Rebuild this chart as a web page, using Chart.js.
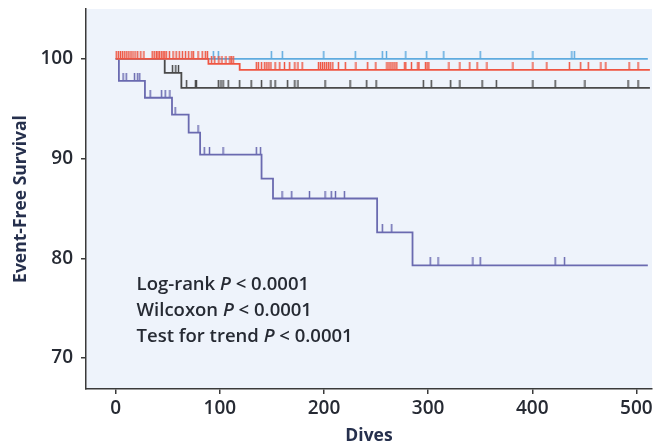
<!DOCTYPE html>
<html>
<head>
<meta charset="utf-8">
<script src="https://cdn.jsdelivr.net/npm/chart.js@4/dist/chart.umd.min.js"></script>
<style>
html,body{margin:0;padding:0;background:#fff;}
#wrap{width:661px;height:447px;position:relative;}
</style>
</head>
<body>
<div id="wrap"><canvas id="c" width="661" height="447"></canvas></div>
<script>
// ---- Data ----
const xTicks = [0, 100, 200, 300, 400, 500];
const yTicks = [70, 80, 90, 100];

// Step functions: survival value holds from x[i] until x[i+1]
const redX    = [0, 89, 119, 513];
const redY    = [100, 99.5, 98.9, 98.9];
const blueX   = [0, 511];
const blueY   = [100, 100];
const blackX  = [0, 47, 63, 513];
const blackY  = [100, 98.6, 97.1, 97.1];
const purpleX = [0, 3, 28, 54, 70, 81, 140, 151, 251, 285, 511];
const purpleY = [100, 97.8, 96.1, 94.4, 92.6, 90.4, 88.0, 86.0, 82.6, 79.3, 79.3];

// Censored observations (dives)
const redCens = [0.5, 2.5, 4.5, 6.5, 8.5, 10.5, 12.5, 14.5, 16.5, 18.5, 21, 24, 27, 35, 37, 39, 40.5, 42, 44, 45.5, 47, 48.5, 51.5, 55, 58, 61, 64, 67, 70, 73, 74.5, 79, 83, 86, 88,
  92, 95, 99, 102, 105.8, 109.6, 111, 112.8,
  135, 137, 140, 143, 145, 147, 149, 153, 157.5, 162, 167, 172, 175, 179, 194.7, 196.6, 198.5, 200.4, 202.3, 204.2, 206, 208.4, 213.8, 220.5, 230.7, 241.9, 249.8,
  260.4, 262.3, 264.2, 266.1, 268, 269.9, 277.5, 278.5, 284, 290.2, 291.2, 297.5, 299, 300.7, 320, 330.5, 340, 347, 356.5,
  381.5, 400.6, 414, 435.7, 446.5, 453.8, 465.9, 470.7, 493, 501.6];
const blueCens = [93.7, 98.5, 149.4, 160, 199.8, 230, 256, 260, 278.5, 298.6, 315, 350, 400.6, 438, 440.4];
const blackCens = [54.5, 57.6, 60.2, 68, 76.5, 77.5, 98.5, 101, 103, 108, 119, 130, 140, 149, 153, 165, 172, 175, 201, 225, 241, 250, 295.4, 303, 321.6, 330.5, 351.8, 365.5, 400.6, 422, 450.6, 492, 501.6];
const purpleCens = [7, 10, 18, 21, 23, 33, 44, 47.5, 52, 57, 79, 85, 90, 103, 135, 139, 159.7, 169, 186, 201, 207, 211, 219.6, 256, 265, 302, 309.5, 343, 350, 422, 431];

const statLines = [
  ["Log-rank ", "P", " < 0.0001"],
  ["Wilcoxon ", "P", " < 0.0001"],
  ["Test for trend ", "P", " < 0.0001"]
];

// ---- Styles ----
const C = {
  red: '#ef5542',
  blue: '#5fabdf',
  black: '#4a4a4a',
  purple: '#6a6ab0',
  bg: '#eef3fb',
  axis: '#3a3a3a',
  text: '#262a33',
  label: '#26304d'
};

function stepPts(xs, ys){ return xs.map((x,i)=>({x:x, y:ys[i]})); }
function valueAt(xs, ys, x){
  let v = ys[0];
  for (let i=0;i<xs.length;i++){ if (xs[i] <= x) v = ys[i]; }
  return v;
}
function censPts(cens, xs, ys){ return cens.map(x=>({x:x, y:valueAt(xs, ys, x)})); }
function tickImg(color){
  const cv = document.createElement('canvas');
  cv.width = 3; cv.height = 16;
  const g = cv.getContext('2d');
  g.strokeStyle = color; g.lineWidth = 1.5;
  g.beginPath(); g.moveTo(1.5, 0); g.lineTo(1.5, 8); g.stroke();
  return cv;
}
function lineDs(label, xs, ys, color){
  return {type:'line', label, data: stepPts(xs, ys), borderColor: color, borderWidth: 1.8,
    stepped: true, pointRadius: 0, fill: false, tension: 0};
}
function censDs(label, cens, xs, ys, color){
  return {type:'scatter', label, data: censPts(cens, xs, ys), pointStyle: tickImg(color),
    pointRadius: 8, borderColor: color, backgroundColor: color};
}

const bgPlugin = {
  id: 'bg',
  beforeDraw(chart){
    const {ctx, chartArea:a} = chart;
    ctx.save(); ctx.fillStyle = C.bg;
    ctx.fillRect(a.left, a.top, a.right - a.left, a.bottom - a.top);
    ctx.restore();
  }
};
const textPlugin = {
  id: 'stats',
  afterDatasetsDraw(chart){
    const {ctx, scales} = chart;
    const x0 = scales.x.getPixelForValue(20);
    const y0 = scales.y.getPixelForValue(77.33);
    ctx.save();
    ctx.fillStyle = C.text; ctx.textBaseline = 'middle';
    statLines.forEach((parts, i) => {
      let x = x0; const y = y0 + i*25.8;
      parts.forEach((p, j) => {
        ctx.font = (j===1 ? 'italic ' : '') + '600 18.5px "Open Sans"';
        ctx.fillText(p, x, y);
        x += ctx.measureText(p).width;
      });
    });
    ctx.restore();
  }
};

new Chart(document.getElementById('c'), {
  data: {
    datasets: [
      censDs('red cens', redCens, redX, redY, C.red),
      lineDs('red', redX, redY, C.red),
      censDs('blue cens', blueCens, blueX, blueY, C.blue),
      lineDs('blue', blueX, blueY, C.blue),
      censDs('black cens', blackCens, blackX, blackY, C.black),
      lineDs('black', blackX, blackY, C.black),
      censDs('purple cens', purpleCens, purpleX, purpleY, C.purple),
      lineDs('purple', purpleX, purpleY, C.purple)
    ]
  },
  options: {
    responsive: false,
    animation: false,
    layout: {padding: {top: 8, right: 6, left: 0, bottom: 0}},
    plugins: {legend: {display: false}, tooltip: {enabled: false}},
    scales: {
      x: {
        type: 'linear', min: -28.6, max: 515,
        afterBuildTicks(s){ s.ticks = xTicks.map(v=>({value:v})); },
        afterFit(s){ s.height = 58; s.paddingLeft = 0; s.paddingRight = 0; },
        grid: {drawOnChartArea: false, tickLength: 5, color: C.axis, lineWidth: 1.5},
        border: {color: C.axis, width: 1.5},
        ticks: {color: C.text, font: {family: '"Open Sans"', size: 19, weight: '600'}, padding: 3, maxRotation: 0},
        title: {display: true, text: 'Dives', color: C.label, font: {family: '"Open Sans"', size: 17.5, weight: 'bold'}, padding: {top: 0, bottom: 0}}
      },
      y: {
        type: 'linear', min: 66.9, max: 105,
        afterBuildTicks(s){ s.ticks = yTicks.map(v=>({value:v})); },
        afterFit(s){ s.width = 86; s.paddingTop = 0; s.paddingBottom = 0; },
        grid: {drawOnChartArea: false, tickLength: 5, color: C.axis, lineWidth: 1.5},
        border: {color: C.axis, width: 1.5},
        ticks: {color: C.text, font: {family: '"Open Sans"', size: 19, weight: '600'}, padding: 8},
        title: {display: true, text: 'Event-Free Survival', color: C.label, font: {family: '"Open Sans"', size: 17.5, weight: 'bold'}, padding: {top: 11, bottom: 0}}
      }
    }
  },
  plugins: [bgPlugin, textPlugin]
});
</script>
</body>
</html>
